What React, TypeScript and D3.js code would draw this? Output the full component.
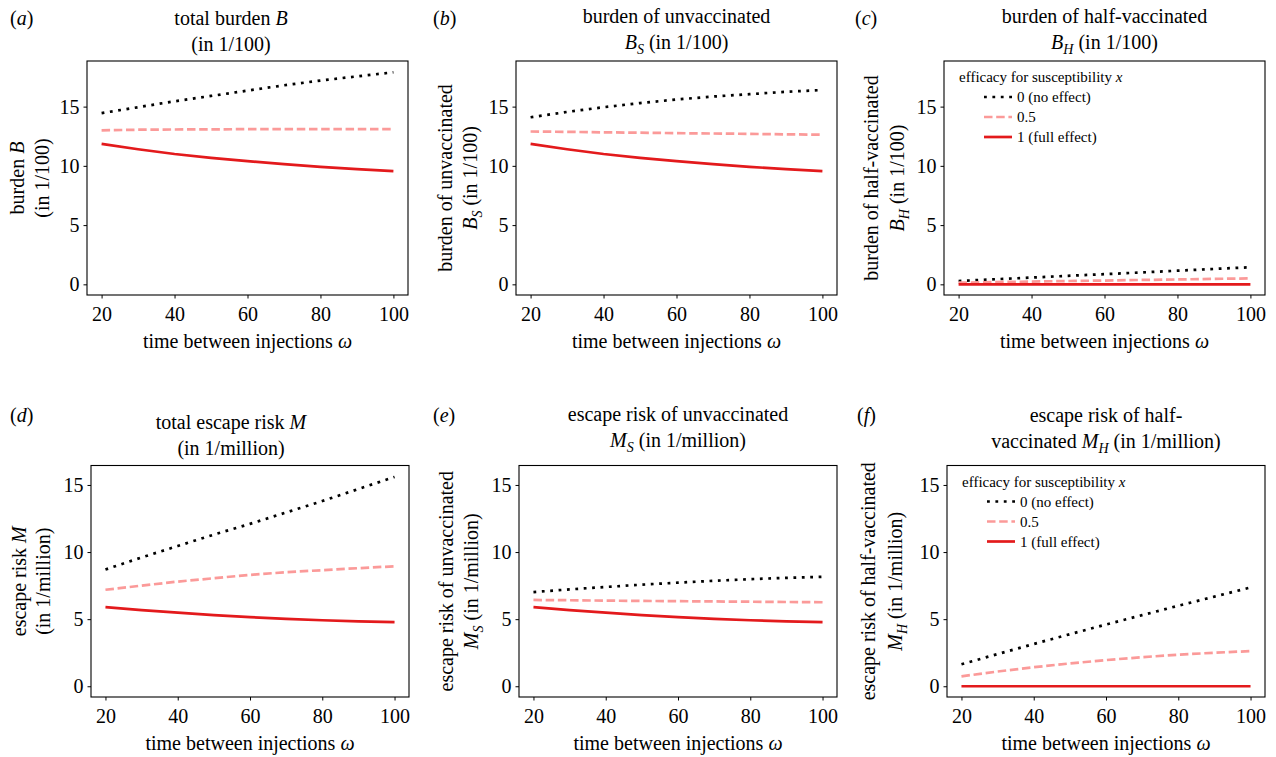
import React from 'react'
import * as d3 from 'd3'

const FONT = '"Liberation Serif", "DejaVu Serif", serif'

// time between injections (x values of every curve)
const omega = [20, 30, 40, 50, 60, 70, 80, 90, 100]
const xTicks = [20, 40, 60, 80, 100]
const yTicks = [0, 5, 10, 15]
const efficacyLabels = ['0 (no effect)', '0.5', '1 (full effect)']

// burden (in 1/100), efficacy x = 0, 0.5, 1
const burdenTotal0 = [14.45, 14.95, 15.45, 15.9, 16.35, 16.8, 17.2, 17.55, 17.9]
const burdenTotal05 = [13.0, 13.05, 13.07, 13.08, 13.1, 13.1, 13.1, 13.1, 13.1]
const burdenTotal1 = [11.85, 11.4, 11.0, 10.68, 10.4, 10.15, 9.92, 9.72, 9.55]

const burdenUnvac0 = [14.1, 14.55, 14.95, 15.3, 15.6, 15.85, 16.05, 16.25, 16.4]
const burdenUnvac05 = [12.9, 12.87, 12.83, 12.8, 12.76, 12.73, 12.7, 12.66, 12.63]
const burdenUnvac1 = [11.85, 11.4, 11.0, 10.68, 10.4, 10.15, 9.92, 9.72, 9.55]

const burdenHalf0 = [0.28, 0.43, 0.57, 0.72, 0.86, 1.0, 1.15, 1.3, 1.44]
const burdenHalf05 = [0.14, 0.19, 0.23, 0.28, 0.32, 0.37, 0.41, 0.46, 0.5]
const burdenHalf1 = [0, 0, 0, 0, 0, 0, 0, 0, 0]

// escape risk (in 1/million)
const escapeTotal0 = [8.7, 9.6, 10.45, 11.3, 12.1, 12.95, 13.8, 14.7, 15.6]
const escapeTotal05 = [7.19, 7.5, 7.8, 8.05, 8.3, 8.5, 8.65, 8.8, 8.94]
const escapeTotal1 = [5.9, 5.68, 5.48, 5.3, 5.15, 5.02, 4.92, 4.84, 4.78]

const escapeUnvac0 = [7.02, 7.22, 7.4, 7.57, 7.72, 7.86, 7.98, 8.08, 8.16]
const escapeUnvac05 = [6.43, 6.41, 6.38, 6.36, 6.34, 6.32, 6.3, 6.28, 6.26]
const escapeUnvac1 = [5.9, 5.68, 5.48, 5.3, 5.15, 5.02, 4.92, 4.84, 4.78]

const escapeHalf0 = [1.64, 2.4, 3.15, 3.88, 4.6, 5.3, 6.0, 6.68, 7.36]
const escapeHalf05 = [0.74, 1.1, 1.42, 1.7, 1.95, 2.17, 2.35, 2.5, 2.62]
const escapeHalf1 = [0, 0, 0, 0, 0, 0, 0, 0, 0]

const seriesStyle = [
  { color: '#000000', dash: '2.8 5.6' },
  { color: '#fb9a99', dash: '8.5 3.7' },
  { color: '#e31a1c', dash: undefined },
]

type Seg = { t: string; i?: boolean; sub?: boolean }

function Rich({ segs, ...rest }: { segs: Seg[]; [k: string]: any }) {
  let shifted = false
  return (
    <text fontFamily={FONT} fontSize={20} fill="#000" style={{ whiteSpace: 'pre' }} {...rest}>
      {segs.map((s, k) => {
        let dy: number | undefined
        if (s.sub && !shifted) { dy = 5; shifted = true }
        else if (!s.sub && shifted) { dy = -5; shifted = false }
        return (
          <tspan key={k} dy={dy} fontStyle={s.i ? 'italic' : undefined} fontSize={s.sub ? 14 : undefined}>
            {s.t}
          </tspan>
        )
      })}
    </text>
  )
}

const panels = [
  {
    tag: 'a', left: 87, right: 408, top: 61, bottom: 295, yDomain: [-0.9, 18.85],
    titleX: 231, titleY: 25, tagX: 10, tagY: 25, yl: [-63, -38],
    title: [[{ t: 'total burden ' }, { t: 'B', i: true }], [{ t: '(in 1/100)' }]],
    ylabel: [[{ t: 'burden ' }, { t: 'B', i: true }], [{ t: '(in 1/100)' }]],
    data: [burdenTotal0, burdenTotal05, burdenTotal1], legend: false,
  },
  {
    tag: 'b', left: 516, right: 837, top: 61, bottom: 295, yDomain: [-0.9, 18.85],
    titleX: 676.5, titleY: 23, tagX: 433, tagY: 25, yl: [-64, -39],
    title: [[{ t: 'burden of unvaccinated' }], [{ t: 'B', i: true }, { t: 'S', i: true, sub: true }, { t: ' (in 1/100)' }]],
    ylabel: [[{ t: 'burden of unvaccinated' }], [{ t: 'B', i: true }, { t: 'S', i: true, sub: true }, { t: ' (in 1/100)' }]],
    data: [burdenUnvac0, burdenUnvac05, burdenUnvac1], legend: false,
  },
  {
    tag: 'c', left: 944, right: 1265, top: 61, bottom: 295, yDomain: [-0.9, 18.85],
    titleX: 1104.5, titleY: 23, tagX: 855, tagY: 25, yl: [-66, -40],
    title: [[{ t: 'burden of half-vaccinated' }], [{ t: 'B', i: true }, { t: 'H', i: true, sub: true }, { t: ' (in 1/100)' }]],
    ylabel: [[{ t: 'burden of half-vaccinated' }], [{ t: 'B', i: true }, { t: 'H', i: true, sub: true }, { t: ' (in 1/100)' }]],
    data: [burdenHalf0, burdenHalf05, burdenHalf1], legend: true,
  },
  {
    tag: 'd', left: 91, right: 409, top: 465.5, bottom: 697, yDomain: [-0.8, 16.45],
    titleX: 231, titleY: 429, tagX: 10, tagY: 422, yl: [-65, -41],
    title: [[{ t: 'total escape risk ' }, { t: 'M', i: true }], [{ t: '(in 1/million)' }]],
    ylabel: [[{ t: 'escape risk ' }, { t: 'M', i: true }], [{ t: '(in 1/million)' }]],
    data: [escapeTotal0, escapeTotal05, escapeTotal1], legend: false,
  },
  {
    tag: 'e', left: 519, right: 837, top: 465.5, bottom: 697, yDomain: [-0.8, 16.45],
    titleX: 678, titleY: 421, tagX: 433, tagY: 422, yl: [-66, -41],
    title: [[{ t: 'escape risk of unvaccinated' }], [{ t: 'M', i: true }, { t: 'S', i: true, sub: true }, { t: ' (in 1/million)' }]],
    ylabel: [[{ t: 'escape risk of unvaccinated' }], [{ t: 'M', i: true }, { t: 'S', i: true, sub: true }, { t: ' (in 1/million)' }]],
    data: [escapeUnvac0, escapeUnvac05, escapeUnvac1], legend: false,
  },
  {
    tag: 'f', left: 947, right: 1265, top: 465.5, bottom: 697, yDomain: [-0.8, 16.45],
    titleX: 1106, titleY: 422, tagX: 857, tagY: 422, yl: [-72, -45],
    title: [[{ t: 'escape risk of half-' }], [{ t: 'vaccinated ' }, { t: 'M', i: true }, { t: 'H', i: true, sub: true }, { t: ' (in 1/million)' }]],
    ylabel: [[{ t: 'escape risk of half-vaccinated' }], [{ t: 'M', i: true }, { t: 'H', i: true, sub: true }, { t: ' (in 1/million)' }]],
    data: [escapeHalf0, escapeHalf05, escapeHalf1], legend: true,
  },
]

function styleAxis(node: SVGGElement | null, axis: any) {
  if (!node) return
  const g = d3.select(node)
  g.call(axis)
  g.select('.domain').remove()
  g.attr('font-size', 20).attr('font-family', FONT)
  g.selectAll('.tick line').attr('stroke', '#000').attr('stroke-width', 1)
  g.selectAll('.tick text').attr('fill', '#000')
}

function Panel({ p }: { p: (typeof panels)[number] }) {
  const x = d3.scaleLinear().domain([16, 104]).range([p.left, p.right])
  const y = d3.scaleLinear().domain(p.yDomain).range([p.bottom, p.top])
  const line = d3.line<number>().x((_, i) => x(omega[i])).y(d => y(d))
  const cy = (p.top + p.bottom) / 2

  return (
    <g>
      <text x={p.tagX} y={p.tagY} fontFamily={FONT} fontSize={20}>
        (<tspan fontStyle="italic">{p.tag}</tspan>)
      </text>
      <Rich segs={p.title[0] as Seg[]} x={p.titleX} y={p.titleY} textAnchor="middle" />
      <Rich segs={p.title[1] as Seg[]} x={p.titleX} y={p.titleY + 26} textAnchor="middle" />
      <Rich segs={p.ylabel[0] as Seg[]} transform={`translate(${p.left + p.yl[0]},${cy}) rotate(-90)`} textAnchor="middle" />
      <Rich segs={p.ylabel[1] as Seg[]} transform={`translate(${p.left + p.yl[1]},${cy}) rotate(-90)`} textAnchor="middle" />

      {p.data.map((vals, k) => (
        <path key={k} d={line(vals) || ''} fill="none" stroke={seriesStyle[k].color}
          strokeWidth={2.7} strokeDasharray={seriesStyle[k].dash} />
      ))}

      <rect x={p.left} y={p.top} width={p.right - p.left} height={p.bottom - p.top}
        fill="none" stroke="#000" strokeWidth={1.1} />

      <g transform={`translate(0,${p.bottom})`}
        ref={node => styleAxis(node, d3.axisBottom(x).tickValues(xTicks).tickSize(3.5).tickPadding(8.5))} />
      <g transform={`translate(${p.left},0)`}
        ref={node => styleAxis(node, d3.axisLeft(y).tickValues(yTicks).tickSize(3.5).tickPadding(4))} />

      <text x={(p.left + p.right) / 2} y={p.bottom + 53} textAnchor="middle" fontFamily={FONT} fontSize={20}>
        time between injections <tspan fontStyle="italic">ω</tspan>
      </text>

      {p.legend && (
        <g fontFamily={FONT} fontSize={15}>
          <text x={p.left + 15} y={p.top + 21}>
            efficacy for susceptibility <tspan fontStyle="italic">x</tspan>
          </text>
          {efficacyLabels.map((lab, k) => {
            const ly = p.top + 41 + k * 20
            return (
              <g key={lab}>
                <line x1={p.left + 40} x2={p.left + 68} y1={ly - 5} y2={ly - 5}
                  stroke={seriesStyle[k].color} strokeWidth={2.7} strokeDasharray={seriesStyle[k].dash} />
                <text x={p.left + 73} y={ly}>{lab}</text>
              </g>
            )
          })}
        </g>
      )}
    </g>
  )
}

export default function App() {
  return (
    <svg width={1276} height={757} style={{ position: 'absolute', left: 0, top: 0, background: '#fff' }}>
      {panels.map(p => <Panel key={p.tag} p={p} />)}
    </svg>
  )
}
